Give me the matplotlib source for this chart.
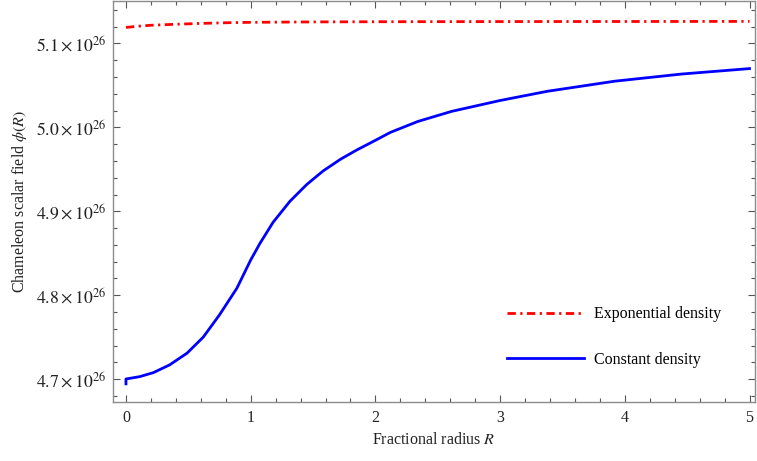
import matplotlib
matplotlib.use('Agg')
import matplotlib.pyplot as plt
from matplotlib.ticker import MultipleLocator, FuncFormatter

############################################### Data (in units of 10^26) ###############################################
EXP = 26

r_const = [0.0, 0.0, 0.11, 0.22, 0.35, 0.49, 0.62, 0.75, 0.89, 1.0, 1.075, 1.18, 1.315, 1.45, 1.58, 1.72, 1.85,
           1.98, 2.12, 2.34, 2.61, 2.85, 3.0, 3.38, 3.92, 4.455, 5.0]
phi_const = [4.6945, 4.7003, 4.7031, 4.7079, 4.7171, 4.7311, 4.7502, 4.7767, 4.8086, 4.8420, 4.8620, 4.8870,
             4.9120, 4.9320, 4.9480, 4.9620, 4.9730, 4.9830, 4.9940, 5.0070, 5.0190, 5.0270, 5.0320, 5.0430,
             5.0550, 5.0635, 5.0700]

r_exp = [0.0, 0.1, 0.2, 0.4, 0.6, 0.8, 1.0, 1.5, 2.0, 3.0, 4.0, 5.0]
phi_exp = [5.1190, 5.1205, 5.1216, 5.1228, 5.1238, 5.1246, 5.1251, 5.1256, 5.1258, 5.1260, 5.1261, 5.1262]

lab_exp = 'Exponential density'
lab_const = 'Constant density'

##################################################### Style ############################################################
plt.rcParams['font.family'] = ['Liberation Serif', 'DejaVu Serif']
plt.rcParams['mathtext.fontset'] = 'stix'
plt.rcParams['lines.scale_dashes'] = False
fs = 11.5
frame_col = '#8c8c8c'

fig = plt.figure(figsize=(7.57, 4.61), dpi=100)
ax = fig.add_axes([113 / 757, 59 / 461, 642 / 757, 401 / 461])

ax.plot(r_exp, phi_exp, color='#ff0000', lw=2.0, dashes=(6, 3.2, 1.6, 3.2), label=lab_exp)
ax.plot(r_const, phi_const, color='#0000ff', lw=2.0, label=lab_const)

ax.set_xlim(-0.104, 5.044)
ax.set_ylim(4.6729, 5.1505)

ax.xaxis.set_major_locator(MultipleLocator(1))
ax.xaxis.set_minor_locator(MultipleLocator(0.2))
ax.yaxis.set_major_locator(MultipleLocator(0.1))
ax.yaxis.set_minor_locator(MultipleLocator(0.02))
ax.yaxis.set_major_formatter(FuncFormatter(lambda v, pos: r'$%.1f\times10^{%d}$' % (v, EXP)))
ax.xaxis.set_major_formatter(FuncFormatter(lambda v, pos: '%d' % round(v)))

for sp in ax.spines.values():
    sp.set_color(frame_col)
    sp.set_linewidth(1.0)
ax.tick_params(which='both', direction='in', top=True, right=True, color='#555555', labelsize=fs,
               labelcolor='#222222', width=0.8)
ax.tick_params(which='major', length=5, pad=6)
ax.tick_params(which='minor', length=2.8)
ax.tick_params(axis='y', which='major', labelsize=12.8, pad=4.5)

ax.set_xlabel(r'Fractional radius $R$', fontsize=fs, color='#222222', labelpad=4)
ax.set_ylabel(r'Chameleon scalar field $\phi(R)$', fontsize=fs, color='#222222', labelpad=5)

ax.legend(loc='upper left', bbox_to_anchor=((493 - 113) / 642, (461 - 292) / 401 - 59 / 401),
          frameon=False, fontsize=fs, handlelength=4.8, handletextpad=0.6, labelspacing=1.85)

fig.savefig('out.png', dpi=100)
